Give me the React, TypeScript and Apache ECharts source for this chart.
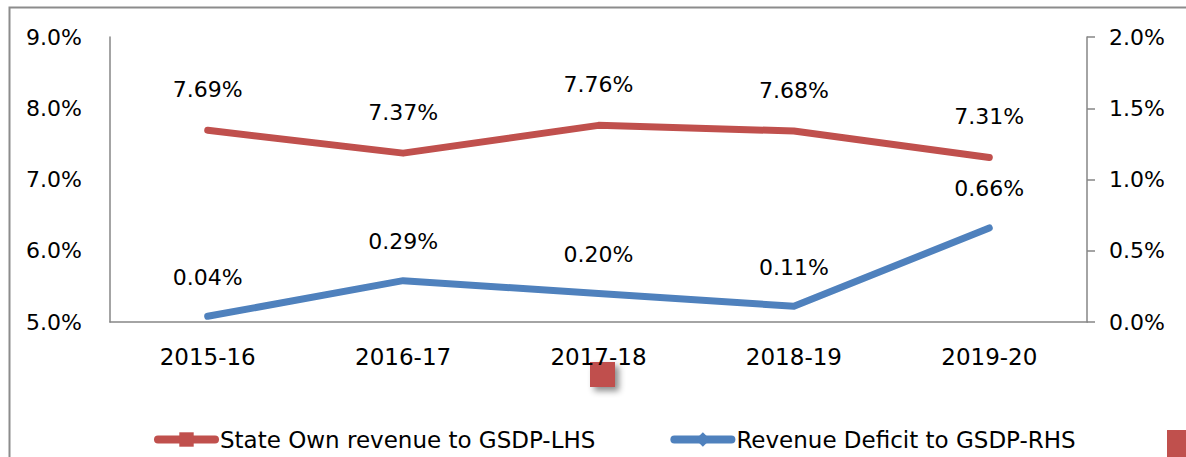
import React, { useEffect, useRef } from "react";
import * as echarts from "echarts";

const categories = ["2015-16", "2016-17", "2017-18", "2018-19", "2019-20"];
const ownRevenue = [7.69, 7.37, 7.76, 7.68, 7.31];
const revenueDeficit = [0.04, 0.29, 0.2, 0.11, 0.66];
const seriesNames = ["State Own revenue to GSDP-LHS", "Revenue Deficit to GSDP-RHS"];

const RED = "#C0504D";
const BLUE = "#4F81BD";
const FONT = "DejaVu Sans";

export default function App() {
  const ref = useRef<HTMLDivElement>(null);
  useEffect(() => {
    const chart = echarts.init(ref.current!, null, { renderer: "svg" });
    chart.setOption({
      animation: false,
      textStyle: { fontFamily: FONT, color: "#000" },
      grid: { left: 110, right: 99, top: 37, bottom: 135 },
      legend: {
        left: 154,
        top: 428,
        padding: 0,
        itemWidth: 57,
        itemHeight: 18,
        itemGap: 75,
        lineStyle: { width: 8, cap: "round" },
        textStyle: { fontFamily: FONT, fontSize: 23, color: "#000" },
        data: seriesNames,
      },
      xAxis: {
        type: "category",
        data: categories,
        boundaryGap: true,
        axisLine: { lineStyle: { color: "#868686", width: 1.5 } },
        axisTick: { show: false },
        axisLabel: { fontFamily: FONT, fontSize: 23, color: "#000", margin: 23 },
      },
      yAxis: [
        {
          type: "value",
          min: 5,
          max: 9,
          interval: 1,
          splitLine: { show: false },
          axisLine: { show: true, lineStyle: { color: "#868686", width: 1.5 } },
          axisTick: { show: false },
          axisLabel: {
            fontFamily: FONT,
            fontSize: 22,
            color: "#000",
            margin: 28,
            formatter: (v: number) => v.toFixed(1) + "%",
          },
        },
        {
          type: "value",
          min: 0,
          max: 2,
          interval: 0.5,
          position: "right",
          splitLine: { show: false },
          axisLine: { show: true, lineStyle: { color: "#868686", width: 1.5 } },
          axisTick: { show: true, length: 8, lineStyle: { color: "#868686", width: 1.5 } },
          axisLabel: {
            fontFamily: FONT,
            fontSize: 22,
            color: "#000",
            margin: 22,
            formatter: (v: number) => v.toFixed(1) + "%",
          },
        },
      ],
      series: [
        {
          name: seriesNames[0],
          type: "line",
          yAxisIndex: 0,
          data: ownRevenue,
          symbol: "rect",
          symbolSize: 0,
          showSymbol: true,
          lineStyle: { color: RED, width: 7, cap: "round", join: "round" },
          itemStyle: { color: RED },
          label: {
            show: true,
            position: "top",
            distance: 30,
            fontFamily: FONT,
            fontSize: 22,
            color: "#000",
            formatter: (p: any) => p.value.toFixed(2) + "%",
          },
          emphasis: { disabled: true },
        },
        {
          name: seriesNames[1],
          type: "line",
          yAxisIndex: 1,
          data: revenueDeficit,
          symbol: "diamond",
          symbolSize: 0,
          showSymbol: true,
          lineStyle: { color: BLUE, width: 7, cap: "round", join: "round" },
          itemStyle: { color: BLUE },
          label: {
            show: true,
            position: "top",
            distance: 28,
            fontFamily: FONT,
            fontSize: 22,
            color: "#000",
            formatter: (p: any) => p.value.toFixed(2) + "%",
          },
          emphasis: { disabled: true },
        },
      ],
      graphic: [
        {
          type: "rect",
          left: 7,
          top: 5,
          shape: { width: 1300, height: 600 },
          style: { fill: "none", stroke: "#8c8c8c", lineWidth: 2 },
          silent: true,
        },
        {
          type: "rect",
          left: 590,
          top: 362,
          shape: { width: 25, height: 25 },
          style: {
            fill: RED,
            shadowColor: "rgba(0,0,0,0.45)",
            shadowBlur: 6,
            shadowOffsetX: 4,
            shadowOffsetY: 4,
          },
          silent: true,
        },
        {
          type: "rect",
          left: 1167,
          top: 430,
          shape: { width: 30, height: 30 },
          style: { fill: RED },
          silent: true,
        },
      ],
    });
    return () => chart.dispose();
  }, []);
  return (
    <div
      ref={ref}
      style={{ position: "fixed", left: 0, top: 0, width: 1186, height: 457, background: "#fff" }}
    />
  );
}
